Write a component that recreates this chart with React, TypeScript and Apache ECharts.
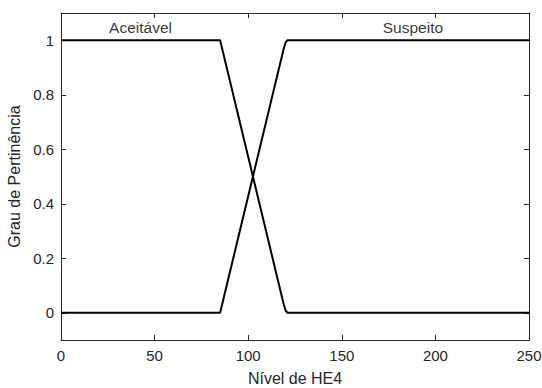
import React, { useEffect, useRef } from "react";
import * as echarts from "echarts";

const aceitavel: [number, number][] = [[0, 1], [85, 1], [119, 0.03], [120, 0.008], [121, 0], [250, 0]];
const suspeito: [number, number][] = [[0, 0], [85, 0], [119, 0.97], [120, 0.992], [121, 1], [250, 1]];
const labels: { name: string; x: number; y: number }[] = [
  { name: "Aceitável", x: 42.5, y: 1.045 },
  { name: "Suspeito", x: 188, y: 1.045 },
];
const xTicks = [0, 50, 100, 150, 200, 250];
const yTicks = [0, 0.2, 0.4, 0.6, 0.8, 1];

const FONT = "Liberation Sans, Arial, Helvetica, sans-serif";
const AX = "#262626";

export default function App() {
  const ref = useRef<HTMLDivElement>(null);
  useEffect(() => {
    const chart = echarts.init(ref.current!, null, { renderer: "svg" });
    const lineCommon = { show: true, lineStyle: { color: AX, width: 1 } };
    chart.setOption({
      animation: false,
      backgroundColor: "#fff",
      grid: { left: 61, right: 13, top: 13, bottom: 48, containLabel: false, outerBoundsMode: "none" },
      xAxis: [
        {
          type: "value", min: 0, max: 250, position: "bottom",
          axisLine: { ...lineCommon, onZero: false },
          axisTick: { show: true, inside: true, length: 5, lineStyle: { color: AX }, customValues: xTicks },
          axisLabel: { customValues: xTicks, color: AX, fontFamily: FONT, fontSize: 15, margin: 8 },
          splitLine: { show: false },
          name: "Nível de HE4", nameLocation: "middle", nameGap: 30,
          nameTextStyle: { color: AX, fontFamily: FONT, fontSize: 16 },
        },
        {
          type: "value", min: 0, max: 250, position: "top",
          axisLine: { ...lineCommon, onZero: false },
          axisTick: { show: true, inside: true, length: 5, lineStyle: { color: AX }, customValues: xTicks },
          axisLabel: { show: false },
          splitLine: { show: false },
        },
      ],
      yAxis: [
        {
          type: "value", min: -0.1, max: 1.1, position: "left",
          axisLine: { ...lineCommon, onZero: false },
          axisTick: { show: true, inside: true, length: 5, lineStyle: { color: AX }, customValues: yTicks },
          axisLabel: { customValues: yTicks, color: AX, fontFamily: FONT, fontSize: 15, margin: 7 },
          splitLine: { show: false },
          name: "Grau de Pertinência", nameLocation: "middle", nameGap: 37,
          nameTextStyle: { color: AX, fontFamily: FONT, fontSize: 16 },
        },
        {
          type: "value", min: -0.1, max: 1.1, position: "right",
          axisLine: { ...lineCommon, onZero: false },
          axisTick: { show: true, inside: true, length: 5, lineStyle: { color: AX }, customValues: yTicks },
          axisLabel: { show: false },
          splitLine: { show: false },
        },
      ],
      series: [
        {
          type: "line", data: aceitavel, showSymbol: false, symbol: "none",
          lineStyle: { color: "#000", width: 2 }, xAxisIndex: 0, yAxisIndex: 0,
        },
        {
          type: "line", data: suspeito, showSymbol: false, symbol: "none",
          lineStyle: { color: "#000", width: 2 }, xAxisIndex: 0, yAxisIndex: 0,
        },
        {
          type: "scatter", symbolSize: 0, xAxisIndex: 0, yAxisIndex: 0,
          data: labels.map((l) => ({ name: l.name, value: [l.x, l.y] })),
          label: {
            show: true, position: "inside", formatter: "{b}",
            color: "#000", fontFamily: FONT, fontSize: 15.5,
          },
        },
      ],
    });
    return () => chart.dispose();
  }, []);
  return <div ref={ref} style={{ width: 542, height: 388, position: "absolute", left: 0, top: 0 }} />;
}
